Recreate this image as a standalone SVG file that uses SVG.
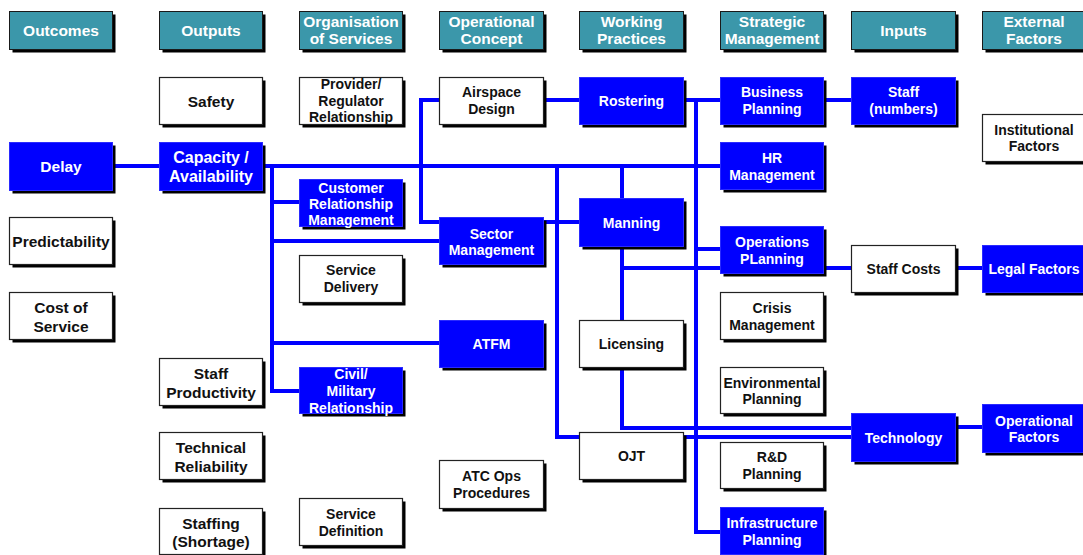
<svg xmlns="http://www.w3.org/2000/svg" width="1083" height="555" viewBox="0 0 1083 555">
  <style>
    .sh { fill: #000; }
    .hd { fill: #3b97aa; stroke: #1a1a1a; stroke-width: 1; }
    .wb { fill: #fff; stroke: #222; stroke-width: 1.2; }
    .bb { fill: #0000ff; stroke: #2a2aff; stroke-width: 1; }
    text { font-family: "Liberation Sans", Arial, sans-serif; font-weight: bold; text-anchor: middle; }
    .tw { fill: #fff; }
    .tk { fill: #111; }
    .f14 { font-size: 14px; }
    .f15 { font-size: 15.5px; }
    .f16 { font-size: 16px; }
    .cn { fill: none; stroke: #0000ff; stroke-width: 4; }
  </style>

  <rect width="1083" height="555" fill="#fff"/>

  <!-- connectors -->
  <g id="connectors" class="cn">
    <path d="M112 166 H159"/>
    <path d="M262 166 H720"/>
    <path d="M272 166 V391 H299"/>
    <path d="M272 202 H299"/>
    <path d="M272 241 H439"/>
    <path d="M272 343 H439"/>
    <path d="M439 100 H421 V222 H439"/>
    <path d="M543 100 H579"/>
    <path d="M543 222 H579"/>
    <path d="M557 166 V437 H579"/>
    <path d="M622 166 V428 H851"/>
    <path d="M622 268 H720"/>
    <path d="M683 437 H851"/>
    <path d="M683 100 H720"/>
    <path d="M696 100 V532 H720"/>
    <path d="M696 249 H720"/>
    <path d="M823 100 H851"/>
    <path d="M823 268 H851"/>
    <path d="M955 268 H982"/>
    <path d="M955 427 H982"/>
  </g>

  <!-- column headers -->
  <g id="hdr-outcomes">
    <rect class="sh" x="12.5" y="14.5" width="103" height="38"/>
    <rect class="hd" x="9.5" y="11.5" width="103" height="38"/>
    <text class="tw f15" x="61" y="36">Outcomes</text>
  </g>
  <g id="hdr-outputs">
    <rect class="sh" x="162.5" y="14.5" width="103" height="38"/>
    <rect class="hd" x="159.5" y="11.5" width="103" height="38"/>
    <text class="tw f15" x="211" y="36">Outputs</text>
  </g>
  <g id="hdr-organisation">
    <rect class="sh" x="302.5" y="14.5" width="103" height="38"/>
    <rect class="hd" x="299.5" y="11.5" width="103" height="38"/>
    <text class="tw f15" x="351" y="27">Organisation</text>
    <text class="tw f15" x="351" y="44">of Services</text>
  </g>
  <g id="hdr-opconcept">
    <rect class="sh" x="442.5" y="14.5" width="104" height="38"/>
    <rect class="hd" x="439.5" y="11.5" width="104" height="38"/>
    <text class="tw f15" x="491.5" y="27">Operational</text>
    <text class="tw f15" x="491.5" y="44">Concept</text>
  </g>
  <g id="hdr-working">
    <rect class="sh" x="582.5" y="14.5" width="104" height="38"/>
    <rect class="hd" x="579.5" y="11.5" width="104" height="38"/>
    <text class="tw f15" x="631.5" y="27">Working</text>
    <text class="tw f15" x="631.5" y="44">Practices</text>
  </g>
  <g id="hdr-strategic">
    <rect class="sh" x="723.5" y="14.5" width="103" height="38"/>
    <rect class="hd" x="720.5" y="11.5" width="103" height="38"/>
    <text class="tw f15" x="772" y="27">Strategic</text>
    <text class="tw f15" x="772" y="44">Management</text>
  </g>
  <g id="hdr-inputs">
    <rect class="sh" x="854.5" y="14.5" width="104" height="38"/>
    <rect class="hd" x="851.5" y="11.5" width="104" height="38"/>
    <text class="tw f15" x="903.5" y="36">Inputs</text>
  </g>
  <g id="hdr-external">
    <rect class="sh" x="985.5" y="14.5" width="103" height="38"/>
    <rect class="hd" x="982.5" y="11.5" width="103" height="38"/>
    <text class="tw f15" x="1034" y="27">External</text>
    <text class="tw f15" x="1034" y="44">Factors</text>
  </g>

  <!-- outcomes -->
  <g id="delay">
    <rect class="sh" x="12.5" y="145.5" width="103" height="48"/>
    <rect class="bb" x="9.5" y="142.5" width="103" height="48"/>
    <text class="tw f15" x="61" y="172">Delay</text>
  </g>
  <g id="predictability">
    <rect class="sh" x="12.5" y="220.5" width="103" height="47"/>
    <rect class="wb" x="9.5" y="217.5" width="103" height="47"/>
    <text class="tk f15" x="61" y="246.5">Predictability</text>
  </g>
  <g id="cost-of-service">
    <rect class="sh" x="12.5" y="295.5" width="103" height="47"/>
    <rect class="wb" x="9.5" y="292.5" width="103" height="47"/>
    <text class="tk f15" x="61" y="312.5">Cost of</text>
    <text class="tk f15" x="61" y="331.5">Service</text>
  </g>

  <!-- outputs -->
  <g id="safety">
    <rect class="sh" x="162.5" y="80.5" width="103" height="47"/>
    <rect class="wb" x="159.5" y="77.5" width="103" height="47"/>
    <text class="tk f15" x="211" y="106.5">Safety</text>
  </g>
  <g id="capacity">
    <rect class="sh" x="162.5" y="145.5" width="103" height="48"/>
    <rect class="bb" x="159.5" y="142.5" width="103" height="48"/>
    <text class="tw f16" x="211" y="163">Capacity /</text>
    <text class="tw f16" x="211" y="182">Availability</text>
  </g>
  <g id="staff-productivity">
    <rect class="sh" x="162.5" y="361.5" width="103" height="47"/>
    <rect class="wb" x="159.5" y="358.5" width="103" height="47"/>
    <text class="tk f15" x="211" y="378.5">Staff</text>
    <text class="tk f15" x="211" y="397.5">Productivity</text>
  </g>
  <g id="technical-reliability">
    <rect class="sh" x="162.5" y="435.5" width="103" height="47"/>
    <rect class="wb" x="159.5" y="432.5" width="103" height="47"/>
    <text class="tk f15" x="211" y="453">Technical</text>
    <text class="tk f15" x="211" y="472">Reliability</text>
  </g>
  <g id="staffing-shortage">
    <rect class="sh" x="162.5" y="511.5" width="103" height="47"/>
    <rect class="wb" x="159.5" y="508.5" width="103" height="46"/>
    <text class="tk f15" x="211" y="528.5">Staffing</text>
    <text class="tk f15" x="211" y="547">(Shortage)</text>
  </g>

  <!-- organisation of services -->
  <g id="provider-regulator">
    <rect class="sh" x="302.5" y="80.5" width="103" height="47"/>
    <rect class="wb" x="299.5" y="77.5" width="103" height="47"/>
    <text class="tk f14" x="351" y="89">Provider/</text>
    <text class="tk f14" x="351" y="106">Regulator</text>
    <text class="tk f14" x="351" y="122">Relationship</text>
  </g>
  <g id="customer-relationship">
    <rect class="sh" x="302.5" y="182.5" width="103" height="47"/>
    <rect class="bb" x="299.5" y="179.5" width="103" height="47"/>
    <text class="tw f14" x="351" y="193">Customer</text>
    <text class="tw f14" x="351" y="209">Relationship</text>
    <text class="tw f14" x="351" y="225">Management</text>
  </g>
  <g id="service-delivery">
    <rect class="sh" x="302.5" y="258.5" width="103" height="47"/>
    <rect class="wb" x="299.5" y="255.5" width="103" height="47"/>
    <text class="tk f14" x="351" y="275">Service</text>
    <text class="tk f14" x="351" y="292">Delivery</text>
  </g>
  <g id="civil-military">
    <rect class="sh" x="302.5" y="370.5" width="103" height="46"/>
    <rect class="bb" x="299.5" y="367.5" width="103" height="46"/>
    <text class="tw f14" x="351" y="379">Civil/</text>
    <text class="tw f14" x="351" y="396">Military</text>
    <text class="tw f14" x="351" y="413">Relationship</text>
  </g>
  <g id="service-definition">
    <rect class="sh" x="302.5" y="501.5" width="103" height="47"/>
    <rect class="wb" x="299.5" y="498.5" width="103" height="47"/>
    <text class="tk f14" x="351" y="519">Service</text>
    <text class="tk f14" x="351" y="536">Definition</text>
  </g>

  <!-- operational concept -->
  <g id="airspace-design">
    <rect class="sh" x="442.5" y="80.5" width="104" height="47"/>
    <rect class="wb" x="439.5" y="77.5" width="104" height="47"/>
    <text class="tk f14" x="491.5" y="97">Airspace</text>
    <text class="tk f14" x="491.5" y="114">Design</text>
  </g>
  <g id="sector-management">
    <rect class="sh" x="442.5" y="220.5" width="104" height="47"/>
    <rect class="bb" x="439.5" y="217.5" width="104" height="47"/>
    <text class="tw f14" x="491.5" y="238.5">Sector</text>
    <text class="tw f14" x="491.5" y="255">Management</text>
  </g>
  <g id="atfm">
    <rect class="sh" x="442.5" y="323.5" width="104" height="47"/>
    <rect class="bb" x="439.5" y="320.5" width="104" height="47"/>
    <text class="tw f14" x="491.5" y="349">ATFM</text>
  </g>
  <g id="atc-ops-procedures">
    <rect class="sh" x="442.5" y="463.5" width="104" height="48"/>
    <rect class="wb" x="439.5" y="460.5" width="104" height="48"/>
    <text class="tk f14" x="491.5" y="481">ATC Ops</text>
    <text class="tk f14" x="491.5" y="498">Procedures</text>
  </g>

  <!-- working practices -->
  <g id="rostering">
    <rect class="sh" x="582.5" y="80.5" width="104" height="47"/>
    <rect class="bb" x="579.5" y="77.5" width="104" height="47"/>
    <text class="tw f14" x="631.5" y="106">Rostering</text>
  </g>
  <g id="manning">
    <rect class="sh" x="582.5" y="201.5" width="104" height="48"/>
    <rect class="bb" x="579.5" y="198.5" width="104" height="48"/>
    <text class="tw f14" x="631.5" y="227.5">Manning</text>
  </g>
  <g id="licensing">
    <rect class="sh" x="582.5" y="323.5" width="104" height="47"/>
    <rect class="wb" x="579.5" y="320.5" width="104" height="47"/>
    <text class="tk f14" x="631.5" y="349">Licensing</text>
  </g>
  <g id="ojt">
    <rect class="sh" x="582.5" y="435.5" width="104" height="47"/>
    <rect class="wb" x="579.5" y="432.5" width="104" height="47"/>
    <text class="tk f14" x="631.5" y="461">OJT</text>
  </g>

  <!-- strategic management -->
  <g id="business-planning">
    <rect class="sh" x="723.5" y="80.5" width="103" height="47"/>
    <rect class="bb" x="720.5" y="77.5" width="103" height="47"/>
    <text class="tw f14" x="772" y="97">Business</text>
    <text class="tw f14" x="772" y="114">Planning</text>
  </g>
  <g id="hr-management">
    <rect class="sh" x="723.5" y="145.5" width="103" height="47"/>
    <rect class="bb" x="720.5" y="142.5" width="103" height="47"/>
    <text class="tw f14" x="772" y="163">HR</text>
    <text class="tw f14" x="772" y="180">Management</text>
  </g>
  <g id="operations-planning">
    <rect class="sh" x="723.5" y="229.5" width="103" height="47"/>
    <rect class="bb" x="720.5" y="226.5" width="103" height="47"/>
    <text class="tw f14" x="772" y="247">Operations</text>
    <text class="tw f14" x="772" y="264">PLanning</text>
  </g>
  <g id="crisis-management">
    <rect class="sh" x="723.5" y="295.5" width="103" height="47"/>
    <rect class="wb" x="720.5" y="292.5" width="103" height="47"/>
    <text class="tk f14" x="772" y="313">Crisis</text>
    <text class="tk f14" x="772" y="329.5">Management</text>
  </g>
  <g id="environmental-planning">
    <rect class="sh" x="723.5" y="370.5" width="103" height="46"/>
    <rect class="wb" x="720.5" y="367.5" width="103" height="46"/>
    <text class="tk f14" x="772" y="388">Environmental</text>
    <text class="tk f14" x="772" y="404">Planning</text>
  </g>
  <g id="rd-planning">
    <rect class="sh" x="723.5" y="445.5" width="103" height="46"/>
    <rect class="wb" x="720.5" y="442.5" width="103" height="46"/>
    <text class="tk f14" x="772" y="462">R&amp;D</text>
    <text class="tk f14" x="772" y="479">Planning</text>
  </g>
  <g id="infrastructure-planning">
    <rect class="sh" x="723.5" y="510.5" width="103" height="47"/>
    <rect class="bb" x="720.5" y="507.5" width="103" height="47"/>
    <text class="tw f14" x="772" y="528">Infrastructure</text>
    <text class="tw f14" x="772" y="545">Planning</text>
  </g>

  <!-- inputs -->
  <g id="staff-numbers">
    <rect class="sh" x="854.5" y="80.5" width="104" height="47"/>
    <rect class="bb" x="851.5" y="77.5" width="104" height="47"/>
    <text class="tw f14" x="903.5" y="97">Staff</text>
    <text class="tw f14" x="903.5" y="114">(numbers)</text>
  </g>
  <g id="staff-costs">
    <rect class="sh" x="854.5" y="248.5" width="104" height="47"/>
    <rect class="wb" x="851.5" y="245.5" width="104" height="47"/>
    <text class="tk f14" x="903.5" y="274">Staff Costs</text>
  </g>
  <g id="technology">
    <rect class="sh" x="854.5" y="416.5" width="104" height="48"/>
    <rect class="bb" x="851.5" y="413.5" width="104" height="48"/>
    <text class="tw f14" x="903.5" y="443">Technology</text>
  </g>

  <!-- external factors -->
  <g id="institutional-factors">
    <rect class="sh" x="985.5" y="117.5" width="103" height="47"/>
    <rect class="wb" x="982.5" y="114.5" width="103" height="47"/>
    <text class="tk f14" x="1034" y="135">Institutional</text>
    <text class="tk f14" x="1034" y="151">Factors</text>
  </g>
  <g id="legal-factors">
    <rect class="sh" x="985.5" y="248.5" width="103" height="47"/>
    <rect class="bb" x="982.5" y="245.5" width="103" height="47"/>
    <text class="tw f14" x="1034" y="274">Legal Factors</text>
  </g>
  <g id="operational-factors">
    <rect class="sh" x="985.5" y="407.5" width="103" height="48"/>
    <rect class="bb" x="982.5" y="404.5" width="103" height="48"/>
    <text class="tw f14" x="1034" y="426">Operational</text>
    <text class="tw f14" x="1034" y="442">Factors</text>
  </g>
</svg>
